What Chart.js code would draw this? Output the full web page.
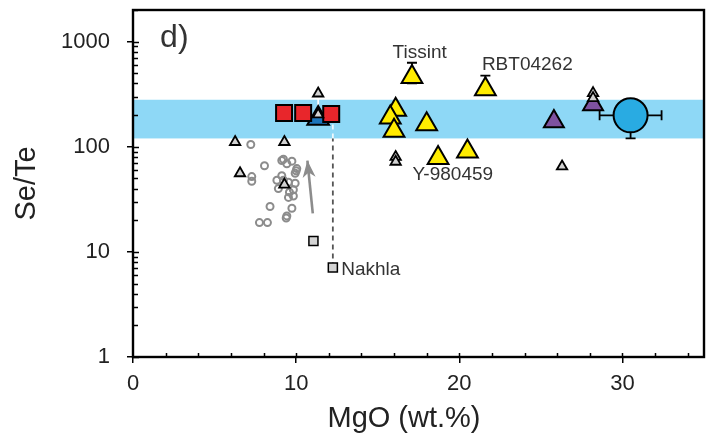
<!DOCTYPE html>
<html><head><meta charset="utf-8">
<script src="https://cdn.jsdelivr.net/npm/chart.js@4/dist/chart.umd.min.js"></script>
<style>html,body{margin:0;padding:0;background:#fff;}</style>
</head><body>
<canvas id="c" width="715" height="442"></canvas>
<script>
// ---------- data ----------
const xTicks = [0, 10, 20, 30];
const yTicks = [1, 10, 100, 1000];
const bandRange = [120, 280];
const xTitle = 'MgO (wt.%)';
const yTitle = 'Se/Te';

const grayCircleX = [7.22, 8.06, 7.28, 7.28, 9.12, 9.43, 9.74, 10.04, 9.94, 9.12, 8.82, 9.22, 9.53, 9.94, 8.91, 9.83, 9.59, 9.83, 9.53, 8.40, 9.74, 9.43, 9.39, 7.75, 8.24, 9.22, 10.0];
const grayCircleY = [105, 66, 52, 47, 74, 69, 73, 62, 56, 53, 48, 48, 46, 45, 40, 39, 37, 34, 33, 27, 26, 22, 21, 19, 19, 76, 59];

const smallTriX = [11.35, 11.35, 6.26, 9.28, 6.56, 9.28, 16.1, 16.1, 26.3, 28.2, 28.2];
const smallTriY = [321, 203, 111, 111, 56, 43.6, 80, 72, 65, 324, 290];

const redSquareX = [9.26, 10.43, 12.15];
const redSquareY = [210, 210, 205];

const darkBlueTriX = [11.35];
const darkBlueTriY = [186];
const darkBlueErrHigh = [300];

const purpleTriX = [25.8, 28.2];
const purpleTriY = [174, 253];

const yellowTriX = [17.1, 21.6, 16.1, 15.77, 16.0, 18.0, 18.7, 20.5];
const yellowTriY = [460, 353, 225, 190, 142, 164, 78, 90];
const yellowErrLow = [400, 312, null, null, null, null, null, null];
const yellowErrHigh = [630, 476, null, null, null, null, null, null];

const blueCircleX = [30.5];
const blueCircleY = [199];
const blueCircleErrXLow = [28.6];
const blueCircleErrXHigh = [32.4];
const blueCircleErrYLow = [120];

const graySquareX = [11.06, 12.25];
const graySquareY = [12.7, 7.1];

const dashLineX = [12.25, 12.25];
const dashLineY = [7.1, 120, 205];

const arrowX = [11.02, 10.69];
const arrowY = [23.2, 74];

const labelText = ['Tissint', 'RBT04262', 'Y-980459', 'Nakhla', 'd)'];
const labelX = [17.57, 24.17, 19.6, 12.76, 1.66];
const labelY = [788, 606, 54.7, 6.7, 1070];

// ---------- helpers ----------
const FONT = "'Liberation Sans', Arial, Helvetica, sans-serif";
const pts = (xs, ys) => xs.map((v, i) => ({x: v, y: ys[i]}));

const bandPlugin = {
  id: 'band',
  beforeDatasetsDraw(chart) {
    const {ctx, chartArea: a, scales: {x, y}} = chart;
    const yTop = y.getPixelForValue(bandRange[1]);
    const yBot = y.getPixelForValue(bandRange[0]);
    ctx.save();
    ctx.fillStyle = '#8ed8f6';
    ctx.fillRect(a.left, yTop, a.right - a.left, yBot - yTop);
    ctx.lineWidth = 1.8;
    const vbar = (xv, lo, hi, cap, color) => {
      const px = x.getPixelForValue(xv);
      const p1 = y.getPixelForValue(lo), p2 = y.getPixelForValue(hi);
      ctx.strokeStyle = color;
      ctx.beginPath();
      ctx.moveTo(px, p1); ctx.lineTo(px, p2);
      if (cap) { ctx.moveTo(px - cap, p1); ctx.lineTo(px + cap, p1); ctx.moveTo(px - cap, p2); ctx.lineTo(px + cap, p2); }
      ctx.stroke();
    };
    yellowTriX.forEach((xv, i) => {
      if (yellowErrLow[i] != null) vbar(xv, yellowErrLow[i], yellowErrHigh[i], 5, '#000');
    });
    darkBlueTriX.forEach((xv, i) => vbar(xv, darkBlueTriY[i], darkBlueErrHigh[i], 0, '#ffffff'));
    blueCircleX.forEach((xv, i) => {
      const py = y.getPixelForValue(blueCircleY[i]);
      const l = x.getPixelForValue(blueCircleErrXLow[i]), r = x.getPixelForValue(blueCircleErrXHigh[i]);
      ctx.strokeStyle = '#000';
      ctx.beginPath();
      ctx.moveTo(l, py); ctx.lineTo(r, py);
      ctx.moveTo(l, py - 5); ctx.lineTo(l, py + 5);
      ctx.moveTo(r, py - 5); ctx.lineTo(r, py + 5);
      const px = x.getPixelForValue(xv), pb = y.getPixelForValue(blueCircleErrYLow[i]);
      ctx.moveTo(px, py); ctx.lineTo(px, pb);
      ctx.moveTo(px - 5, pb); ctx.lineTo(px + 5, pb);
      ctx.stroke();
    });
    ctx.restore();
  },
  afterDatasetsDraw(chart) {
    const {ctx, scales: {x, y}} = chart;
    ctx.save();
    const x0 = x.getPixelForValue(arrowX[0]), y0 = y.getPixelForValue(arrowY[0]);
    const x1 = x.getPixelForValue(arrowX[1]), y1 = y.getPixelForValue(arrowY[1]);
    const len = Math.hypot(x1 - x0, y1 - y0), ux = (x1 - x0) / len, uy = (y1 - y0) / len;
    const nx = -uy, ny = ux, L = 17, W = 6.5, N = 5;
    ctx.fillStyle = '#8c8c8c';
    ctx.beginPath();
    ctx.moveTo(x1, y1);
    ctx.lineTo(x1 - ux * L + nx * W, y1 - uy * L + ny * W);
    ctx.lineTo(x1 - ux * (L - N), y1 - uy * (L - N));
    ctx.lineTo(x1 - ux * L - nx * W, y1 - uy * L - ny * W);
    ctx.closePath();
    ctx.fill();
    ctx.fillStyle = '#333';
    ctx.textBaseline = 'middle';
    labelText.forEach((t, i) => {
      const isD = t === 'd)', isN = t === 'Nakhla';
      ctx.font = (isD ? 32 : 19) + 'px ' + FONT;
      ctx.textAlign = (isD || isN) ? 'left' : 'center';
      ctx.fillText(t, x.getPixelForValue(labelX[i]), y.getPixelForValue(labelY[i]));
    });
    ctx.restore();
  },
  afterDraw(chart) {
    const {ctx, chartArea: a, scales: {x, y}} = chart;
    ctx.save();
    ctx.strokeStyle = '#000';
    ctx.lineWidth = 1.5;
    ctx.beginPath();
    for (let e = 0; e <= 3; e++) {
      for (let m = 1; m <= 9; m++) {
        const v = m * Math.pow(10, e);
        if (v > y.max) break;
        const py = Math.round(y.getPixelForValue(v)) + 0.5;
        ctx.moveTo(a.left, py); ctx.lineTo(a.left + (m === 1 ? 6 : 5), py);
      }
    }
    for (let v = 2; v < 35; v += 2) {
      const px = Math.round(x.getPixelForValue(v)) + 0.5;
      ctx.moveTo(px, a.bottom); ctx.lineTo(px, a.bottom - 4);
    }
    ctx.stroke();
    ctx.lineWidth = 2.4;
    ctx.strokeRect(a.left, a.top, a.right - a.left, a.bottom - a.top);
    // x-axis title (slightly left of centre, as in the original)
    ctx.fillStyle = '#222';
    ctx.font = '29px ' + FONT;
    ctx.textAlign = 'center';
    ctx.textBaseline = 'middle';
    ctx.fillText(xTitle, 404, 419);
    ctx.restore();
  }
};

const mk = (data, style, radius, bg, border, bw) => ({
  data, pointStyle: style, pointRadius: radius, pointHoverRadius: radius,
  backgroundColor: bg, borderColor: border, borderWidth: bw, pointBorderWidth: bw, showLine: false
});

const noPad = s => { s.paddingTop = 0; s.paddingBottom = 0; s.paddingLeft = 0; s.paddingRight = 0; };

new Chart(document.getElementById('c'), {
  type: 'scatter',
  data: {
    datasets: [
      mk(pts(smallTriX, smallTriY), 'triangle', 6, '#d2d2d2', '#000', 1.8),
      mk(pts(redSquareX, redSquareY), 'rect', 11.3, '#e8262b', '#000', 2),
      mk(pts(darkBlueTriX, darkBlueTriY), 'triangle', 12.5, '#1c75bc', '#000', 2),
      mk(pts(purpleTriX, purpleTriY), 'triangle', 11.5, '#7e52a0', '#000', 2),
      mk(pts(yellowTriX, yellowTriY), 'triangle', 12, '#ffec00', '#000', 2),
      mk(pts(blueCircleX, blueCircleY), 'circle', 17, '#29abe2', '#000', 2),
      mk(pts(graySquareX, graySquareY), 'rect', 6.4, '#d4d4d4', '#000', 1.5),
      {data: [{x: dashLineX[0], y: dashLineY[0]}, {x: dashLineX[1], y: dashLineY[1]}], showLine: true, pointRadius: 0,
       borderColor: '#555', borderWidth: 1.8, borderDash: [5, 4]},
      {data: [{x: dashLineX[0], y: dashLineY[1]}, {x: dashLineX[1], y: dashLineY[2]}], showLine: true, pointRadius: 0,
       borderColor: '#eef8fd', borderWidth: 1.8, borderDash: [5, 4]},
      {data: pts(arrowX, arrowY), showLine: true, pointRadius: 0, borderColor: '#8c8c8c', borderWidth: 2.6},
      mk(pts(grayCircleX, grayCircleY), 'circle', 3.5, 'rgba(255,255,255,0)', '#8c8c8c', 2)
    ]
  },
  options: {
    responsive: false, animation: false, devicePixelRatio: 1,
    events: [],
    layout: {autoPadding: false, padding: {top: 10, right: 11, left: 0, bottom: 0}},
    plugins: {legend: {display: false}, tooltip: {enabled: false}},
    scales: {
      x: {
        type: 'linear', min: 0, max: 35,
        afterBuildTicks: s => { s.ticks = xTicks.map(v => ({value: v})); },
        afterFit: s => { s.height = 85; noPad(s); },
        grid: {display: true, drawOnChartArea: false, drawTicks: true, tickLength: 6, color: '#000', lineWidth: 1.5},
        border: {display: false},
        ticks: {font: {family: FONT, size: 22}, color: '#222', padding: 8, maxRotation: 0},
        title: {display: false}
      },
      y: {
        type: 'logarithmic', min: 1, max: 2000,
        afterBuildTicks: s => { s.ticks = yTicks.map(v => ({value: v})); },
        afterFit: s => { s.width = 133; noPad(s); },
        grid: {display: true, drawOnChartArea: false, drawTicks: true, tickLength: 6, color: '#000', lineWidth: 1.5},
        border: {display: false},
        ticks: {font: {family: FONT, size: 22}, color: '#222', padding: 17, callback: v => String(v)},
        title: {display: true, text: yTitle, font: {family: FONT, size: 29}, color: '#222', padding: {top: 10, bottom: 0}}
      }
    }
  },
  plugins: [bandPlugin]
});
</script>
</body></html>
